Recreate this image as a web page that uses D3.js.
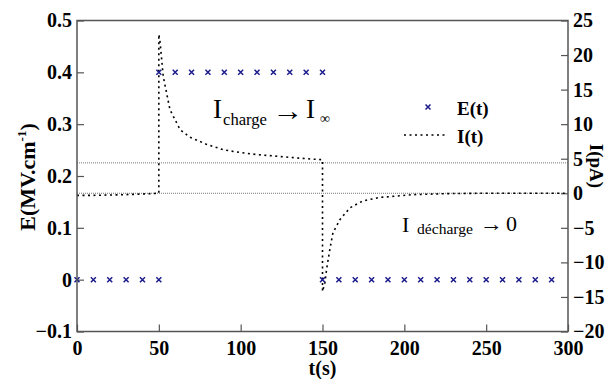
<!DOCTYPE html>
<html><head><meta charset="utf-8">
<script src="https://cdn.jsdelivr.net/npm/d3@7"></script>
<style>
body{margin:0;background:#fff;}
svg{display:block;}
</style></head>
<body>
<svg id="chart" width="607" height="379"></svg>
<script>
// ---- data ----
const xTicks = [0, 50, 100, 150, 200, 250, 300];
const yLeftTicks = [-0.1, 0, 0.1, 0.2, 0.3, 0.4, 0.5];
const yRightTicks = [-20, -15, -10, -5, 0, 5, 10, 15, 20, 25];

// E(t) markers (MV/cm)
const eTimes = [0, 10, 20, 30, 40, 50,
  50, 60, 70, 80, 90, 100, 110, 120, 130, 140, 150,
  150, 160, 170, 180, 190, 200, 210, 220, 230, 240, 250, 260, 270, 280, 290];
const eValues = [0, 0, 0, 0, 0, 0,
  0.4, 0.4, 0.4, 0.4, 0.4, 0.4, 0.4, 0.4, 0.4, 0.4, 0.4,
  0, 0, 0, 0, 0, 0, 0, 0, 0, 0, 0, 0, 0, 0, 0];

// I(t) current (pA)
const iTimes = [0, 10, 20, 30, 40, 50, 50, 50.7, 52.7, 56.8, 63, 69, 79, 89.4, 99.6, 109.8, 120, 130, 140.3, 150,
  150, 151.5, 152.5, 154.5, 156.4, 160.7, 166.8, 174.7, 185, 195.4, 205, 226, 246, 270, 300];
const iValues = [-0.3, -0.3, -0.25, -0.2, -0.1, 0, 23, 22, 16.9, 12.1, 9.2, 8.1, 7.1, 6.3, 5.9, 5.6, 5.4, 5.2, 5.0, 4.85,
  -14.2, -12.9, -11.0, -8.1, -5.7, -3.8, -2.1, -1.1, -0.6, -0.4, -0.2, -0.05, 0, 0, 0];

// reference levels (pA)
const refLevels = [0, 4.4];

// ---- chart ----
const FONT = "'Liberation Serif', 'DejaVu Serif', serif";
const svg = d3.select("#chart").attr("font-family", FONT);
const L = 77, R = 568, T = 20.5, B = 331.5;
const x = d3.scaleLinear().domain([0, 300]).range([L, R]);
const yL = d3.scaleLinear().domain([-0.1, 0.5]).range([B, T]);
const yR = d3.scaleLinear().domain([-20, 25]).range([B, T]);

const axisColor = "#555";

// axes
const gx = svg.append("g").attr("transform", `translate(0,${B})`)
  .call(d3.axisBottom(x).tickValues(xTicks).tickSize(-7).tickPadding(9).tickFormat(d3.format("d")));
const gyl = svg.append("g").attr("transform", `translate(${L},0)`)
  .call(d3.axisLeft(yL).tickValues(yLeftTicks).tickSize(-7).tickPadding(5).tickFormat(d => d === 0 ? "0" : d3.format(".1f")(d)));
const gyr = svg.append("g").attr("transform", `translate(${R},0)`)
  .call(d3.axisRight(yR).tickValues(yRightTicks).tickSize(-7).tickPadding(5).tickFormat(d3.format("d")));
[gx, gyl, gyr].forEach(g => {
  g.attr("font-family", FONT).attr("font-size", 20).attr("font-weight", "bold");
  g.select(".domain").remove();
  g.selectAll(".tick line").attr("stroke", axisColor).attr("stroke-width", 1.2);
  g.selectAll(".tick text").attr("fill", "#000");
});

// reference lines
svg.append("g").selectAll("line").data(refLevels).join("line")
  .attr("x1", L).attr("x2", R)
  .attr("y1", d => yR(d)).attr("y2", d => yR(d))
  .attr("stroke", "#777").attr("stroke-width", 1).attr("stroke-dasharray", "1,1");

// I(t) curve
const iData = iTimes.map((t, k) => [t, iValues[k]]);
svg.append("path").datum(iData)
  .attr("fill", "none").attr("stroke", "#000").attr("stroke-width", 1.6)
  .attr("stroke-dasharray", "2,3.5")
  .attr("d", d3.line().x(d => x(d[0])).y(d => yR(d[1])));

// E(t) markers
const eData = eTimes.map((t, k) => [t, eValues[k]]);
const cross = d3.symbol(d3.symbolTimes, 18);
const markColor = "#1a1a8c";
svg.append("g").selectAll("path").data(eData).join("path")
  .attr("transform", d => `translate(${x(d[0])},${yL(d[1])})`)
  .attr("d", cross).attr("fill", "none").attr("stroke", markColor).attr("stroke-width", 1.5);

// frame
svg.append("rect").attr("x", L).attr("y", T).attr("width", R - L).attr("height", B - T)
  .attr("fill", "none").attr("stroke", axisColor).attr("stroke-width", 1.5);

// legend
svg.append("path").attr("transform", "translate(428,107)").attr("d", cross)
  .attr("fill", "none").attr("stroke", markColor).attr("stroke-width", 1.5);
svg.append("text").attr("x", 457).attr("y", 115).text("E(t)")
  .attr("font-size", 19).attr("font-weight", "bold");
svg.append("line").attr("x1", 404).attr("x2", 447).attr("y1", 135).attr("y2", 135)
  .attr("stroke", "#000").attr("stroke-width", 1.6).attr("stroke-dasharray", "2,3.5");
svg.append("text").attr("x", 457).attr("y", 143).text("I(t)")
  .attr("font-size", 19).attr("font-weight", "bold");

// annotations
function txt(xp, yp, s, size, opts = {}) {
  const t = svg.append("text").attr("x", xp).attr("y", yp).text(s).attr("font-size", size);
  if (opts.len) t.attr("textLength", opts.len).attr("lengthAdjust", "spacingAndGlyphs");
  return t;
}
txt(213, 118, "I", 27);
txt(223, 125, "charge", 16, {len: 44});
txt(272, 120, "→", 27, {len: 31});
txt(306, 118, "I", 27);
txt(320, 123, "∞", 14);

txt(402, 232, "I", 22);
txt(417, 234, "décharge", 15.5, {len: 56});
txt(480, 231, "→", 22, {len: 23});
txt(506, 231, "0", 22);

// axis titles
svg.append("text").attr("x", 322.5).attr("y", 375).attr("text-anchor", "middle")
  .text("t(s)").attr("font-size", 20).attr("font-weight", "bold");

const lt = svg.append("text").attr("transform", "translate(35,177) rotate(-90)")
  .attr("text-anchor", "middle").attr("font-size", 22).attr("font-weight", "bold");
lt.append("tspan").text("E(MV.cm");
lt.append("tspan").attr("dy", -9).attr("font-size", 13).text("-1");
lt.append("tspan").attr("dy", 9).text(")");

svg.append("text").attr("transform", "translate(590,166) rotate(90)")
  .attr("text-anchor", "middle").text("I(pA)")
  .attr("font-size", 19).attr("font-weight", "bold");
</script>
</body></html>
